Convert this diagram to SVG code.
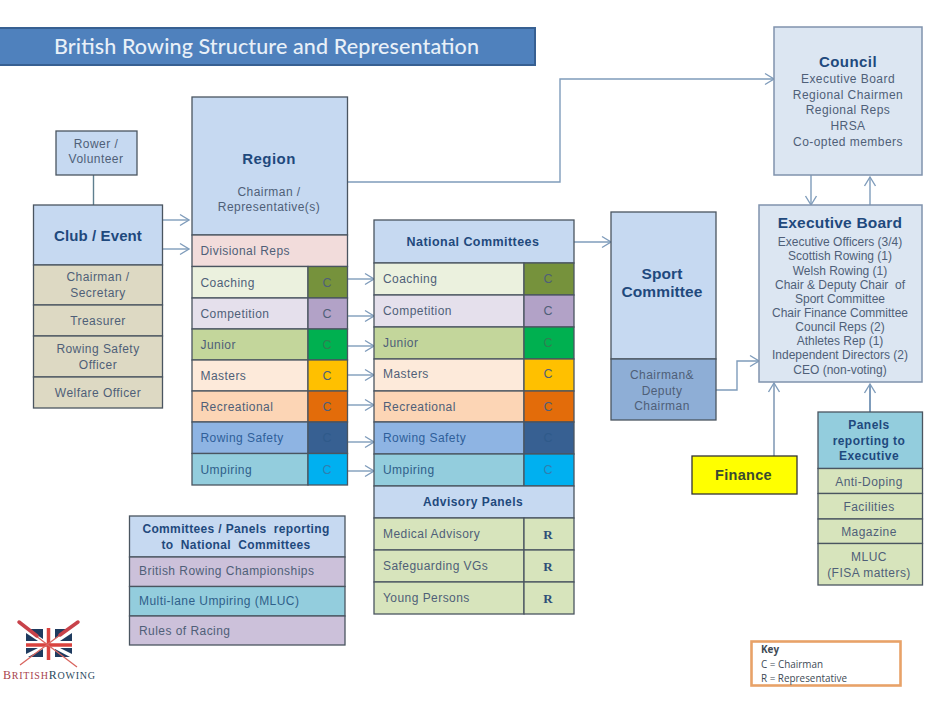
<svg xmlns="http://www.w3.org/2000/svg" width="940" height="705" viewBox="0 0 940 705">
<style>
text{font-family:"Liberation Sans",Arial,sans-serif;font-size:12px;fill:#4f5f78;letter-spacing:.45px}
.m{text-anchor:middle}
.h{font-weight:700;fill:#1f497d}
.box{stroke:#4a5560;stroke-width:1.3}
.lt{stroke:#8093ad;stroke-width:1.5}
.c{text-anchor:middle;font-size:12.500px;letter-spacing:0}
.r{text-anchor:middle;font-family:"Liberation Serif",serif;font-size:13px;font-weight:700;fill:#2f4f78;letter-spacing:0}
.e{letter-spacing:0}
.k{font-family:"Open Sans",sans-serif;font-size:9.900px;fill:#404a55;letter-spacing:0}
.con{fill:none;stroke:#7f9cbb;stroke-width:1.4}
.arr{marker-end:url(#a)}
</style>
<defs>
<marker id="a" markerUnits="userSpaceOnUse" markerWidth="12" markerHeight="14" refX="10" refY="6" orient="auto" overflow="visible"><path d="M1 .5L10 6L1 11.500" fill="none" stroke="#7f9cbb" stroke-width="1.400"/></marker>
</defs>
<rect width="940" height="705" fill="#fff"/>
<g id="title"><rect x="-1" y="28" width="536" height="37" fill="#4f81bd" stroke="#376092" stroke-width="2"/><text x="54" y="54" style="font-family:'Lato',sans-serif;font-size:21.500px;font-weight:500;fill:#e8f0f8;letter-spacing:0" textLength="425">British Rowing Structure and Representation</text></g>
<g id="connectors">
<path class="con" style="stroke:#5f7f8f" d="M93.500 175V205"/>
<path class="con arr" d="M161 220H189"/><path class="con arr" d="M161 249H189"/>
<path class="con arr" d="M348 182H560V79H774"/>
<path class="con arr" d="M348 279H374"/><path class="con arr" d="M346 316H374"/><path class="con arr" d="M347 346H374"/><path class="con arr" d="M345 375H374"/><path class="con arr" d="M347 405H374"/><path class="con arr" d="M346 442H374"/><path class="con arr" d="M347 471H374"/>
<path class="con arr" d="M574 242H611"/>
<path class="con arr" d="M716 390H737V361H759"/>
<path class="con arr" d="M811 175V205"/><path class="con arr" d="M870 205V177"/>
<path class="con arr" style="stroke:#9db0c6;stroke-width:2" d="M774 456V383"/><path class="con arr" style="stroke-width:2" d="M870 412V384"/>
</g>
<g id="rower"><rect class="box" x="56" y="131" width="81" height="44" fill="#c6d9f1"/><text class="m" x="96" y="148">Rower /</text><text class="m" x="96" y="163">Volunteer</text></g>
<g id="club"><rect class="box" x="33.500" y="205" width="129" height="60" fill="#c6d9f1"/><text class="m h" x="98" y="241" style="font-size:15px;letter-spacing:.1px">Club / Event</text>
<rect class="box" x="33.500" y="265" width="129" height="40" fill="#ddd9c3"/><text class="m" x="98" y="281">Chairman /</text><text class="m" x="98" y="297">Secretary</text>
<rect class="box" x="33.500" y="305" width="129" height="31" fill="#ddd9c3"/><text class="m" x="98" y="325">Treasurer</text>
<rect class="box" x="33.500" y="336" width="129" height="41" fill="#ddd9c3"/><text class="m" x="98" y="353">Rowing Safety</text><text class="m" x="98" y="369">Officer</text>
<rect class="box" x="33.500" y="377" width="129" height="31" fill="#ddd9c3"/><text class="m" x="98" y="397">Welfare Officer</text></g>
<g id="region"><rect class="box" x="192" y="97" width="155.500" height="138" fill="#c6d9f1"/><text class="m h" x="269" y="164" style="font-size:15px">Region</text><text class="m" x="269" y="196">Chairman /</text><text class="m" x="269" y="211">Representative(s)</text>
<rect class="box" x="192" y="235" width="155.500" height="31.500" fill="#f2dcdb"/><text x="200.500" y="255">Divisional Reps</text>
<rect class="box" x="192" y="266.500" width="116" height="31.500" fill="#ebf1de"/><rect class="box" x="308" y="266.500" width="39.500" height="31.500" fill="#76923c"/><text x="200.500" y="287">Coaching</text><text class="c" x="327" y="287">C</text>
<rect class="box" x="192" y="298" width="116" height="31" fill="#e5e0ec"/><rect class="box" x="308" y="298" width="39.500" height="31" fill="#b2a2c7"/><text x="200.500" y="318">Competition</text><text class="c" x="327" y="318">C</text>
<rect class="box" x="192" y="329" width="116" height="31" fill="#c3d69b"/><rect class="box" x="308" y="329" width="39.500" height="31" fill="#00b050"/><text x="200.500" y="349">Junior</text><text class="c" x="327" y="349" style="fill:#2f7f50">C</text>
<rect class="box" x="192" y="360" width="116" height="31" fill="#fdeada"/><rect class="box" x="308" y="360" width="39.500" height="31" fill="#ffc000"/><text x="200.500" y="380">Masters</text><text class="c" x="327" y="380">C</text>
<rect class="box" x="192" y="391" width="116" height="31" fill="#fcd5b5"/><rect class="box" x="308" y="391" width="39.500" height="31" fill="#e36c0a"/><text x="200.500" y="411">Recreational</text><text class="c" x="327" y="411">C</text>
<rect class="box" x="192" y="422" width="116" height="31.500" fill="#8eb4e3"/><rect class="box" x="308" y="422" width="39.500" height="31.500" fill="#376092"/><text x="200.500" y="442" style="fill:#2f5f9a">Rowing Safety</text><text class="c" x="327" y="442" style="fill:#2f5a8a">C</text>
<rect class="box" x="192" y="453.500" width="116" height="31.500" fill="#93cddd"/><rect class="box" x="308" y="453.500" width="39.500" height="31.500" fill="#00b0f0"/><text x="200.500" y="474" style="fill:#2f5f8a">Umpiring</text><text class="c" x="327" y="474" style="fill:#2f7fb0">C</text></g>
<g id="national"><rect class="box" x="374" y="220" width="200" height="43" fill="#c6d9f1"/><text class="m h" x="473" y="246" style="font-size:12.500px">National Committees</text>
<rect class="box" x="374" y="263" width="150" height="32" fill="#ebf1de"/><rect class="box" x="524" y="263" width="50" height="32" fill="#76923c"/><text x="383" y="283">Coaching</text><text class="c" x="548" y="283">C</text>
<rect class="box" x="374" y="295" width="150" height="32" fill="#e5e0ec"/><rect class="box" x="524" y="295" width="50" height="32" fill="#b2a2c7"/><text x="383" y="315">Competition</text><text class="c" x="548" y="315">C</text>
<rect class="box" x="374" y="327" width="150" height="32" fill="#c3d69b"/><rect class="box" x="524" y="327" width="50" height="32" fill="#00b050"/><text x="383" y="347">Junior</text><text class="c" x="548" y="347" style="fill:#2f7f50">C</text>
<rect class="box" x="374" y="359" width="150" height="32" fill="#fdeada"/><rect class="box" x="524" y="359" width="50" height="32" fill="#ffc000"/><text x="383" y="378">Masters</text><text class="c" x="548" y="378">C</text>
<rect class="box" x="374" y="391" width="150" height="31" fill="#fcd5b5"/><rect class="box" x="524" y="391" width="50" height="31" fill="#e36c0a"/><text x="383" y="411">Recreational</text><text class="c" x="548" y="411">C</text>
<rect class="box" x="374" y="422" width="150" height="32" fill="#8eb4e3"/><rect class="box" x="524" y="422" width="50" height="32" fill="#376092"/><text x="383" y="442" style="fill:#2f5f9a">Rowing Safety</text><text class="c" x="548" y="442" style="fill:#2f5a8a">C</text>
<rect class="box" x="374" y="454" width="150" height="32" fill="#93cddd"/><rect class="box" x="524" y="454" width="50" height="32" fill="#00b0f0"/><text x="383" y="474" style="fill:#2f5f8a">Umpiring</text><text class="c" x="548" y="474" style="fill:#2f7fb0">C</text></g>
<g id="advisory"><rect class="box" x="374" y="486" width="200" height="32" fill="#c6d9f1"/><text class="m h" x="473" y="506">Advisory Panels</text>
<rect class="box" x="374" y="518" width="150" height="32" fill="#d7e4bc"/><rect class="box" x="524" y="518" width="50" height="32" fill="#d7e4bc"/><text x="383" y="538">Medical Advisory</text><text class="r" x="548" y="539">R</text>
<rect class="box" x="374" y="550" width="150" height="32" fill="#d7e4bc"/><rect class="box" x="524" y="550" width="50" height="32" fill="#d7e4bc"/><text x="383" y="570">Safeguarding VGs</text><text class="r" x="548" y="571">R</text>
<rect class="box" x="374" y="582" width="150" height="32" fill="#d7e4bc"/><rect class="box" x="524" y="582" width="50" height="32" fill="#d7e4bc"/><text x="383" y="602">Young Persons</text><text class="r" x="548" y="603">R</text></g>
<g id="sport"><rect class="box" x="611" y="212" width="105" height="147" fill="#c6d9f1"/><text class="m h" x="662" y="279" style="font-size:15.500px;letter-spacing:.1px">Sport</text><text class="m h" x="662" y="297" style="font-size:15.500px;letter-spacing:.1px">Committee</text>
<rect class="box" x="611" y="359" width="105" height="61" fill="#8eaed6"/><text class="m" x="662" y="379">Chairman&amp;</text><text class="m" x="662" y="395">Deputy</text><text class="m" x="662" y="410">Chairman</text></g>
<g id="council"><rect class="lt" x="774" y="27" width="148" height="148" fill="#dce6f2"/><text class="m h" x="848" y="67" style="font-size:15px">Council</text>
<text class="m" x="848" y="83">Executive Board</text><text class="m" x="848" y="99">Regional Chairmen</text><text class="m" x="848" y="114">Regional Reps</text><text class="m" x="848" y="130">HRSA</text><text class="m" x="848" y="146">Co-opted members</text></g>
<g id="executive"><rect class="lt" x="759" y="205" width="163" height="177" fill="#dce6f2"/><text class="m h" x="840" y="228" style="font-size:15.500px;letter-spacing:.2px">Executive Board</text>
<text class="m e" x="840" y="246">Executive Officers (3/4)</text><text class="m e" x="840" y="260">Scottish Rowing (1)</text><text class="m e" x="840" y="275">Welsh Rowing (1)</text><text class="m e" x="840" y="289" style="white-space:pre">Chair &amp; Deputy Chair  of</text><text class="m e" x="840" y="303">Sport Committee</text><text class="m e" x="840" y="317">Chair Finance Committee</text><text class="m e" x="840" y="331">Council Reps (2)</text><text class="m e" x="840" y="345">Athletes Rep (1)</text><text class="m e" x="840" y="359">Independent Directors (2)</text><text class="m e" x="840" y="374">CEO (non-voting)</text></g>
<g id="finance"><rect class="box" x="692" y="456" width="105" height="38" fill="#ffff00" style="stroke:#333"/><text class="m" x="743.500" y="480" style="font-size:14.500px;font-weight:700;fill:#3a4a30;letter-spacing:.3px">Finance</text></g>
<g id="panels"><rect class="box" x="818" y="412" width="104.500" height="56.500" fill="#93cddd"/><text class="m h" x="869" y="429">Panels</text><text class="m h" x="869" y="445">reporting to</text><text class="m h" x="869" y="460">Executive</text>
<rect class="box" x="818" y="468.500" width="104.500" height="25" fill="#d7e4bc"/><text class="m" x="869" y="486">Anti-Doping</text>
<rect class="box" x="818" y="493.500" width="104.500" height="25.500" fill="#d7e4bc"/><text class="m" x="869" y="511">Facilities</text>
<rect class="box" x="818" y="519" width="104.500" height="24.500" fill="#d7e4bc"/><text class="m" x="869" y="536">Magazine</text>
<rect class="box" x="818" y="543.500" width="104.500" height="41.500" fill="#d7e4bc"/><text class="m" x="869" y="561">MLUC</text><text class="m" x="869" y="577">(FISA matters)</text></g>
<g id="reporting"><rect class="box" x="129.500" y="516" width="215.500" height="41" fill="#c6d9f1"/><text class="m h" x="236" y="533" style="letter-spacing:.35px;white-space:pre">Committees / Panels  reporting</text><text class="m h" x="236" y="549" style="letter-spacing:.35px;white-space:pre">to  National  Committees</text>
<rect class="box" x="129.500" y="557" width="215.500" height="29.500" fill="#ccc1da"/><text x="139" y="575">British Rowing Championships</text>
<rect class="box" x="129.500" y="586.500" width="215.500" height="29.500" fill="#93cddd"/><text x="139" y="605" style="fill:#2f5f8a">Multi-lane Umpiring (MLUC)</text>
<rect class="box" x="129.500" y="616" width="215.500" height="29" fill="#ccc1da"/><text x="139" y="635">Rules of Racing</text></g>
<g id="logo"><path d="M28 629H43V639ZM26 633L38 641H26ZM70 629H55V639ZM72 633L60 641H72ZM28 657H43V649ZM26 654L38 648H26ZM70 657H55V649ZM72 654L60 648H72Z" fill="#1f3b5f"/>
<path d="M26 645H72M48.500 628V660" stroke="#d9433f" stroke-width="3.500" fill="none"/>
<path d="M36 636L77 667M60 635L20 665" stroke="#d9655f" stroke-width="1.300"/>
<path d="M19 622L37 636M78 622L60 635" stroke="#c8424a" stroke-width="3.500" stroke-linecap="round"/>
<text x="3" y="679" textLength="92" style="font-family:'Liberation Serif',serif;font-size:12px;letter-spacing:0;fill:#a8434c">B<tspan font-size="10">RITISH</tspan><tspan fill="#2c4a60">R<tspan font-size="10">OWING</tspan></tspan></text></g>
<g id="key"><rect x="751.500" y="641.500" width="149" height="44" fill="#fff" stroke="#e8a268" stroke-width="2.600"/>
<text class="k" x="761" y="653" font-weight="700">Key</text><text class="k" x="761" y="668">C = Chairman</text><text class="k" x="761" y="682">R = Representative</text></g>
</svg>
